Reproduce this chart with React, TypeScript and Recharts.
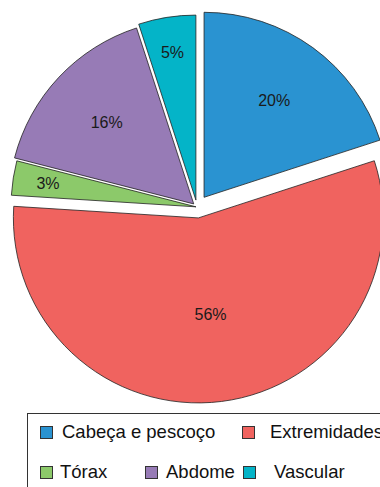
import React from 'react';
import { PieChart, Pie, Cell, Sector, Legend } from 'recharts';

const categories = ['Cabeça e pescoço', 'Extremidades', 'Tórax', 'Abdome', 'Vascular'];
const shares = [20, 56, 3, 16, 5];
const colors = ['#2A93D1', '#F0635F', '#8CC96A', '#977BB6', '#04B4C8'];
// how far each wedge is pulled out from the center, px
const explode = [12, 11, 1, 4.5, 7];

const data = categories.map((name, i) => ({ name, value: shares[i] }));

const RADIAN = Math.PI / 180;
const FONT = '"Liberation Sans", Arial, Helvetica, sans-serif';

const offsetFor = (name: string) => explode[categories.indexOf(name)] || 0;

const ExplodedSector = (props: any) => {
  const { cx, cy, midAngle, name } = props;
  const d = offsetFor(name);
  const dx = d * Math.cos(-midAngle * RADIAN);
  const dy = d * Math.sin(-midAngle * RADIAN);
  return <Sector {...props} cx={cx + dx} cy={cy + dy} />;
};

const renderLabel = (props: any) => {
  const { cx, cy, midAngle, outerRadius, value, name } = props;
  // small wedges get their label nearer the rim, the big one nearer the middle
  const frac = value < 10 ? 0.81 : value > 50 ? 0.525 : 0.645;
  const r = offsetFor(name) + outerRadius * frac;
  const x = cx + r * Math.cos(-midAngle * RADIAN);
  const y = cy + r * Math.sin(-midAngle * RADIAN);
  return (
    <text x={x} y={y} textAnchor="middle" dominantBaseline="central" fill="#1a1a1a" fontSize={16} fontFamily={FONT}>
      {`${value}%`}
    </text>
  );
};

// legend laid out in two rows like the original figure (indexes into categories)
const legendRows = [[0, 1], [2, 3, 4]];
const legendWidths = [[202, 180], [105, 98, 140]];
const swatchGaps = [9, 15, 7, 8, 18];
const rowHeights = [36, 44];

const renderLegend = (props: any) => {
  const { payload = [] } = props;
  return (
    <div
      style={{
        width: 420,
        height: 90,
        border: '1px solid #333',
        boxSizing: 'border-box',
        paddingLeft: 12,
        fontFamily: FONT,
        fontSize: 18.5,
        color: '#111',
      }}
    >
      {legendRows.map((row, ri) => (
        <div key={ri} style={{ display: 'flex', alignItems: 'center', height: rowHeights[ri] }}>
          {row.map((idx, ci) => {
            const entry = payload.find((p: any) => p.value === categories[idx]);
            if (!entry) return null;
            return (
              <div key={idx} style={{ display: 'flex', alignItems: 'center', width: legendWidths[ri][ci], flexShrink: 0 }}>
                <span
                  style={{
                    display: 'inline-block',
                    width: 11,
                    height: 11,
                    background: entry.color,
                    border: '1px solid #333',
                    marginRight: swatchGaps[idx],
                    flexShrink: 0,
                  }}
                />
                <span style={{ whiteSpace: 'nowrap', lineHeight: '20px' }}>{entry.value}</span>
              </div>
            );
          })}
        </div>
      ))}
    </div>
  );
};

const App = () => {
  return (
    <div style={{ position: 'absolute', left: 0, top: 0, width: 380, height: 487, overflow: 'hidden', background: '#fff' }}>
      <PieChart width={380} height={487} margin={{ top: 0, right: 0, bottom: 0, left: 0 }}>
        <Pie
          data={data}
          dataKey="value"
          nameKey="name"
          cx={197}
          cy={207}
          outerRadius={185}
          startAngle={90}
          endAngle={-270}
          stroke="#222"
          strokeWidth={0.8}
          shape={ExplodedSector}
          activeShape={ExplodedSector}
          label={renderLabel}
          labelLine={false}
          isAnimationActive={false}
        >
          {data.map((d, i) => (
            <Cell key={d.name} fill={colors[i]} />
          ))}
        </Pie>
        <Legend
          verticalAlign="bottom"
          content={renderLegend}
          wrapperStyle={{ position: 'absolute', left: 27, top: 413, bottom: 'auto', width: 420, height: 90 }}
        />
      </PieChart>
    </div>
  );
};

export default App;
